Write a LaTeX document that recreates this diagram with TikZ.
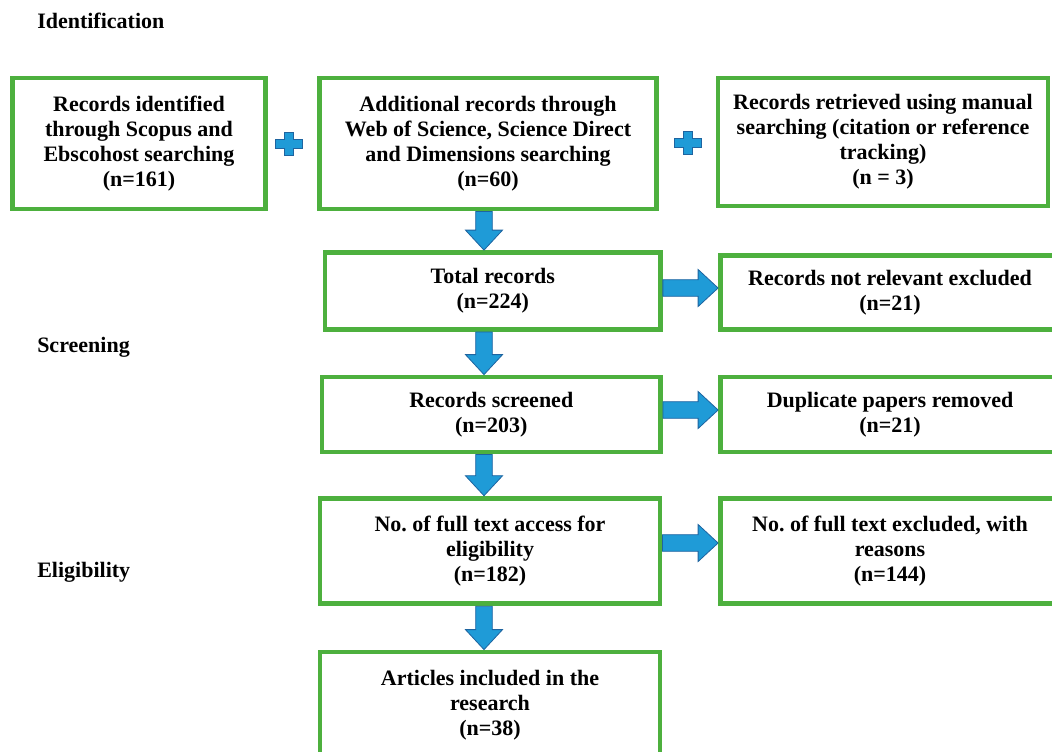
\documentclass[tikz,border=0pt]{standalone}
\usepackage{fontspec}
\setmainfont{Liberation Serif}
\usetikzlibrary{calc,positioning}
\definecolor{boxgreen}{RGB}{77,176,62}
\definecolor{arrowblue}{RGB}{31,155,215}
\definecolor{arrowedge}{RGB}{30,100,160}
\frenchspacing
\tikzset{
  stagebox/.style={rectangle, draw=boxgreen, line width=3.6pt, fill=white, align=center,
                   inner sep=0pt, font=\bfseries\fontsize{16.5}{18.75}\selectfont},
  phase/.style={anchor=base west, inner sep=0pt, font=\bfseries\fontsize{16.5}{18.75}\selectfont},
  fatarrow/.style={fill=arrowblue, draw=arrowedge, line width=0.6pt, line join=miter},
  plusmark/.style={fill=arrowblue, draw=arrowedge, line width=0.6pt}
}
% block arrow from #1 to #2 (coordinates without parentheses)
\newcommand\blockarrow[2]{%
  \coordinate (hd) at ($(#2)!15pt!(#1)$);
  \draw[fatarrow] ($(#1)!6.2pt!90:(#2)$) -- ($(hd)!6.2pt!90:(#2)$) -- ($(hd)!13.9pt!90:(#2)$)
    -- (#2) -- ($(hd)!13.9pt!-90:(#2)$) -- ($(hd)!6.2pt!-90:(#2)$) -- ($(#1)!6.2pt!-90:(#2)$) -- cycle;
}
% plus sign centred on #1
\newcommand\plussign[1]{%
  \draw[plusmark] ($(#1)+(-4.5,-11.5)$) -- ++(9,0) -- ++(0,7) -- ++(9,0) -- ++(0,9) -- ++(-9,0)
    -- ++(0,7) -- ++(-9,0) -- ++(0,-7) -- ++(-9,0) -- ++(0,-9) -- ++(9,0) -- cycle;
}

\begin{document}
\begin{tikzpicture}[x=0.75pt,y=-0.75pt]
  \useasboundingbox (0,0) rectangle (1052,751);
  \clip (0,0) rectangle (1052,751);

  % Stage labels.
  \node[phase] (lidn) at (37,28) {Identification};
  \node[phase] (lscr) at (37,352) {Screening};
  \node[phase] (lelg) at (37,577) {Eligibility};

  % Identification boxes.
  \node[stagebox, minimum width=189.75pt, minimum height=98.25pt] (id1) at (139,143.5)
    {Records identified\\through Scopus and\\Ebscohost searching\\(n=161)};
  \node[stagebox, minimum width=252.75pt, minimum height=98.25pt] (id2) at (488,143.5)
    {Additional records through\\Web of Science, Science Direct\\and Dimensions searching\\(n=60)};
  \node[stagebox, minimum width=247.5pt, minimum height=96pt] (id3) at (883,142)
    {Records retrieved using manual\\searching (citation or reference\\tracking)\\(n = 3)};

  % Main column.
  \node[stagebox, minimum width=251.6pt, minimum height=57.75pt] (total) at (492.75,291)
    {Total records\\(n=224)};
  \node[stagebox, minimum width=253.9pt, minimum height=56.25pt] (screened) at (491.25,414.5)
    {Records screened\\(n=203)};
  \node[stagebox, minimum width=255pt, minimum height=79.3pt] (full) at (490,551)
    {No. of full text access for\\eligibility\\(n=182)};
  \node[stagebox, minimum width=255pt, minimum height=79.5pt] (incl) at (490,705)
    {Articles included in the\\research\\(n=38)};

  % Exclusion column.
  \node[stagebox, minimum width=254.25pt, minimum height=55.5pt] (notrel) at (890,292.5)
    {Records not relevant excluded\\(n=21)};
  \node[stagebox, minimum width=254.25pt, minimum height=56.25pt] (dup) at (890,414.5)
    {Duplicate papers removed\\(n=21)};
  \node[stagebox, minimum width=254.25pt, minimum height=79.3pt] (fullex) at (890,551)
    {No. of full text excluded, with\\reasons\\(n=144)};

  % Plus signs between the sources.
  \coordinate (p1) at ($(id1.east)!0.43!(id2.west)$);
  \coordinate (p2) at ($(id2.east)!0.52!(id3.west)$);
  \plussign{p1}
  \plussign{p2}

  % Down arrows.
  \coordinate (spine) at (484,0);
  \blockarrow{spine |- id2.south}{spine |- total.north}
  \blockarrow{spine |- total.south}{spine |- screened.north}
  \blockarrow{spine |- screened.south}{spine |- full.north}
  \blockarrow{spine |- full.south}{spine |- incl.north}

  % Right arrows.
  \coordinate (r1) at ($(total.east)+(0,-3)$);
  \coordinate (r2) at ($(screened.east)+(0,-4.5)$);
  \coordinate (r3) at ($(full.east)+(0,-8)$);
  \blockarrow{r1}{r1 -| notrel.west}
  \blockarrow{r2}{r2 -| dup.west}
  \blockarrow{r3}{r3 -| fullex.west}
\end{tikzpicture}
\end{document}
